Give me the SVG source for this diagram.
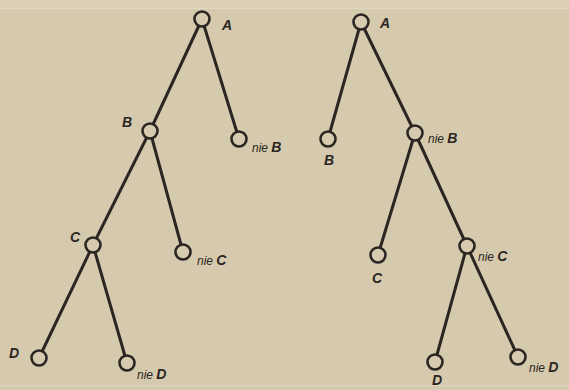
<svg xmlns="http://www.w3.org/2000/svg" width="569" height="390" viewBox="0 0 569 390">
<style>
.e{stroke:#2b2622;stroke-width:3;stroke-linecap:round}
.n{fill:#d6cbaf;stroke:#2b2622;stroke-width:2.6}
.t{font-family:"Liberation Sans",Arial,sans-serif;font-style:italic;font-weight:bold;font-size:14px;fill:#2b2622}
.s{font-weight:normal;font-size:12px}
.m{text-anchor:middle}
</style>
<rect x="0" y="0" width="569" height="390" fill="#d6caae"/>
<rect x="0" y="0" width="569" height="8" fill="#dacfb5"/>
<line x1="0" y1="8.5" x2="569" y2="8.5" stroke="#e2d8c2" stroke-width="1"/>
<line x1="0" y1="385.5" x2="569" y2="385.5" stroke="#e0d6c0" stroke-width="1"/>
<g id="edges">
<line class="e" x1="202" y1="19" x2="150" y2="131"/>
<line class="e" x1="202" y1="19" x2="239" y2="139"/>
<line class="e" x1="150" y1="131" x2="93" y2="245"/>
<line class="e" x1="150" y1="131" x2="183" y2="252"/>
<line class="e" x1="93" y1="245" x2="39" y2="358"/>
<line class="e" x1="93" y1="245" x2="127" y2="363"/>
<line class="e" x1="361" y1="22" x2="328" y2="139"/>
<line class="e" x1="361" y1="22" x2="415" y2="133"/>
<line class="e" x1="415" y1="133" x2="378" y2="255"/>
<line class="e" x1="415" y1="133" x2="467" y2="246"/>
<line class="e" x1="467" y1="246" x2="435" y2="362"/>
<line class="e" x1="467" y1="246" x2="518" y2="357"/>
</g>
<g id="L-A"><circle class="n" cx="202" cy="19" r="7.5"/><text class="t m" x="227" y="30">A</text></g>
<g id="L-B"><circle class="n" cx="150" cy="131" r="7.5"/><text class="t m" x="127" y="127">B</text></g>
<g id="L-nieB"><circle class="n" cx="239" cy="139" r="7.5"/><text class="t" x="252" y="152"><tspan class="s">nie </tspan>B</text></g>
<g id="L-C"><circle class="n" cx="93" cy="245" r="7.5"/><text class="t m" x="75" y="242">C</text></g>
<g id="L-nieC"><circle class="n" cx="183" cy="252" r="7.5"/><text class="t" x="197" y="265"><tspan class="s">nie </tspan>C</text></g>
<g id="L-D"><circle class="n" cx="39" cy="358" r="7.5"/><text class="t m" x="14" y="358">D</text></g>
<g id="L-nieD"><circle class="n" cx="127" cy="363" r="7.5"/><text class="t" x="137" y="379"><tspan class="s">nie </tspan>D</text></g>
<g id="R-A"><circle class="n" cx="361" cy="22" r="7.5"/><text class="t m" x="385" y="28">A</text></g>
<g id="R-B"><circle class="n" cx="328" cy="139" r="7.5"/><text class="t m" x="329" y="165">B</text></g>
<g id="R-nieB"><circle class="n" cx="415" cy="133" r="7.5"/><text class="t" x="428" y="143"><tspan class="s">nie </tspan>B</text></g>
<g id="R-C"><circle class="n" cx="378" cy="255" r="7.5"/><text class="t m" x="377" y="283">C</text></g>
<g id="R-nieC"><circle class="n" cx="467" cy="246" r="7.5"/><text class="t" x="478" y="261"><tspan class="s">nie </tspan>C</text></g>
<g id="R-D"><circle class="n" cx="435" cy="362" r="7.5"/><text class="t m" x="437" y="385">D</text></g>
<g id="R-nieD"><circle class="n" cx="518" cy="357" r="7.5"/><text class="t" x="529" y="372"><tspan class="s">nie </tspan>D</text></g>
</svg>
